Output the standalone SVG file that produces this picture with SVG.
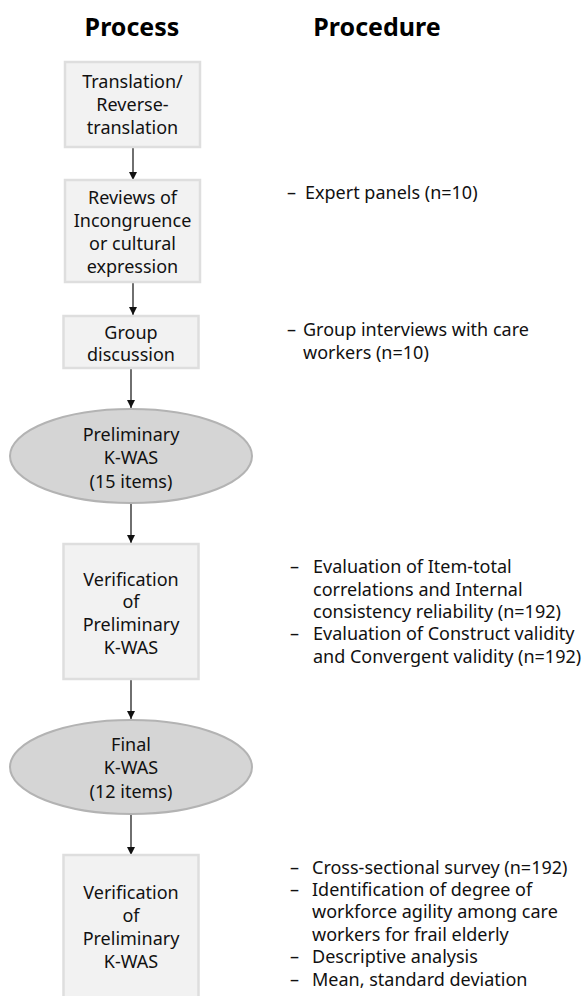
<svg xmlns="http://www.w3.org/2000/svg" width="587" height="996" viewBox="0 0 587 996">
<style>
.title{font-family:"Noto Sans","Open Sans",sans-serif;font-weight:bold;font-size:25px;fill:#000;text-anchor:middle}
.box{fill:#f2f2f2;stroke:#dedede;stroke-width:2.5}
.ell{fill:#d5d5d5;stroke:#b3b3b3;stroke-width:2}
.t{font-family:"Noto Sans","Open Sans",sans-serif;font-size:18px;fill:#111;text-anchor:middle}
.r{font-family:"Noto Sans","Open Sans",sans-serif;font-size:18px;fill:#111}
.c{stroke:#222;stroke-width:1.3;fill:none;marker-end:url(#ah)}
</style>
<defs>
<marker id="ah" viewBox="0 0 10 10" refX="10" refY="5" markerWidth="8" markerHeight="8" markerUnits="userSpaceOnUse" orient="auto">
<path d="M0,0 L10,5 L0,10 z" fill="#111"/>
</marker>
</defs>
<rect width="587" height="996" fill="#fff"/>
<text class="title" x="132" y="36">Process</text>
<text class="title" x="377" y="36">Procedure</text>

<g id="connectors">
<line class="c" x1="133" y1="148" x2="133" y2="180"/>
<line class="c" x1="133" y1="283" x2="133" y2="315"/>
<line class="c" x1="131" y1="369" x2="131" y2="408"/>
<line class="c" x1="131" y1="503" x2="131" y2="543"/>
<line class="c" x1="131" y1="680" x2="131" y2="719"/>
<line class="c" x1="131" y1="815" x2="131" y2="855"/>
</g>

<g id="n1">
<rect class="box" x="65" y="62" width="135" height="85"/>
<text class="t" x="132.5" y="88">Translation/</text>
<text class="t" x="132.5" y="111">Reverse-</text>
<text class="t" x="132.5" y="134">translation</text>
</g>
<g id="n2">
<rect class="box" x="65" y="180" width="135" height="102"/>
<text class="t" x="132.5" y="204">Reviews of</text>
<text class="t" x="132.5" y="227">Incongruence</text>
<text class="t" x="132.5" y="250">or cultural</text>
<text class="t" x="132.5" y="273">expression</text>
</g>
<g id="n3">
<rect class="box" x="63.5" y="316" width="135" height="52"/>
<text class="t" x="131" y="339">Group</text>
<text class="t" x="131" y="361">discussion</text>
</g>
<g id="n4">
<ellipse class="ell" cx="131" cy="456" rx="121" ry="47"/>
<text class="t" x="131" y="441">Preliminary</text>
<text class="t" x="131" y="464">K-WAS</text>
<text class="t" x="131" y="488">(15 items)</text>
</g>
<g id="n5">
<rect class="box" x="63.5" y="544" width="135" height="135"/>
<text class="t" x="131" y="586">Verification</text>
<text class="t" x="131" y="608">of</text>
<text class="t" x="131" y="631">Preliminary</text>
<text class="t" x="131" y="654">K-WAS</text>
</g>
<g id="n6">
<ellipse class="ell" cx="131" cy="767" rx="121" ry="47"/>
<text class="t" x="131" y="751">Final</text>
<text class="t" x="131" y="774">K-WAS</text>
<text class="t" x="131" y="798">(12 items)</text>
</g>
<g id="n7">
<rect class="box" x="63.5" y="855" width="135" height="150"/>
<text class="t" x="131" y="899">Verification</text>
<text class="t" x="131" y="922">of</text>
<text class="t" x="131" y="945">Preliminary</text>
<text class="t" x="131" y="968">K-WAS</text>
</g>

<g id="p1">
<text class="r" x="287" y="199">–</text>
<text class="r" x="305" y="199">Expert panels (n=10)</text>
</g>
<g id="p2">
<text class="r" x="287" y="336">–</text>
<text class="r" x="303" y="336">Group interviews with care</text>
<text class="r" x="303" y="359">workers (n=10)</text>
</g>
<g id="p3">
<text class="r" x="290" y="573">–</text>
<text class="r" x="313" y="573">Evaluation of Item-total</text>
<text class="r" x="313" y="596">correlations and Internal</text>
<text class="r" x="313" y="618">consistency reliability (n=192)</text>
<text class="r" x="290" y="640">–</text>
<text class="r" x="313" y="640">Evaluation of Construct validity</text>
<text class="r" x="313" y="663">and Convergent validity (n=192)</text>
</g>
<g id="p4">
<text class="r" x="290" y="874">–</text>
<text class="r" x="312" y="874">Cross-sectional survey (n=192)</text>
<text class="r" x="290" y="896">–</text>
<text class="r" x="312" y="896">Identification of degree of</text>
<text class="r" x="312" y="918">workforce agility among care</text>
<text class="r" x="312" y="941">workers for frail elderly</text>
<text class="r" x="290" y="963">–</text>
<text class="r" x="312" y="963">Descriptive analysis</text>
<text class="r" x="290" y="986">–</text>
<text class="r" x="312" y="986">Mean, standard deviation</text>
</g>
</svg>
